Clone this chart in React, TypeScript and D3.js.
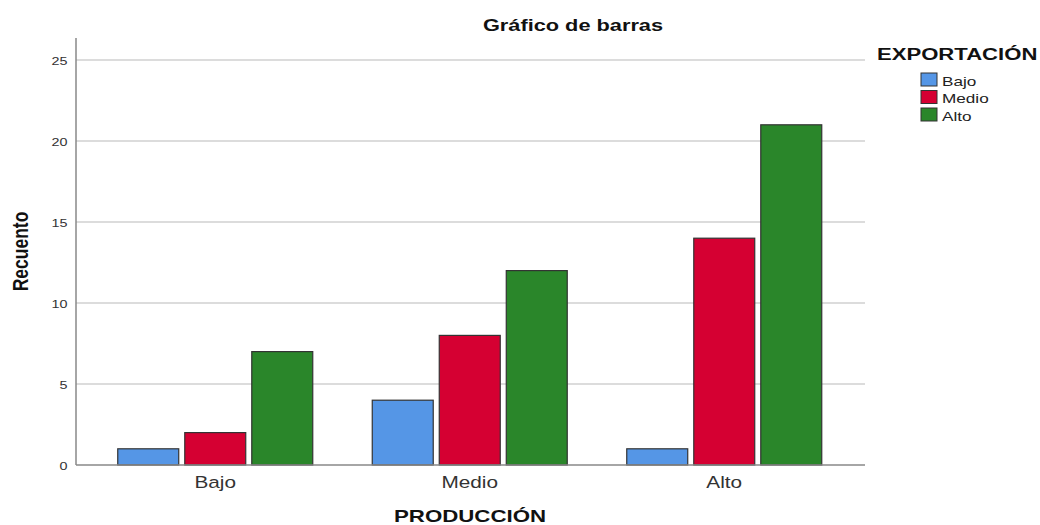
import React from "react";
import * as d3 from "d3";

const categories = ["Bajo", "Medio", "Alto"];
const seriesNames = ["Bajo", "Medio", "Alto"];
const bajoValues = [1, 4, 1];
const medioValues = [2, 8, 14];
const altoValues = [7, 12, 21];
const yTicks = [0, 5, 10, 15, 20, 25];
const colors = ["#5596E6", "#D50032", "#2A862A"];

const title = "Gráfico de barras";
const xTitle = "PRODUCCIÓN";
const yTitle = "Recuento";
const legendTitle = "EXPORTACIÓN";

type TP = { x: number; y: number; sx: number; size: number; bold?: boolean; anchor?: string; fill?: string; children: React.ReactNode };
function T({ x, y, sx, size, bold, anchor, fill, children }: TP) {
  return (
    <g transform={`translate(${x},${y}) scale(${sx},1)`}>
      <text x={0} y={0} fontSize={size} fontWeight={bold ? "bold" : "normal"} textAnchor={anchor || "start"} fill={fill || "#111"}>{children}</text>
    </g>
  );
}

export default function App() {
  const W = 1040, H = 525;
  const plotLeft = 76, plotRight = 865, plotTop = 38, plotBottom = 465;
  const series = [bajoValues, medioValues, altoValues];
  const y = d3.scaleLinear().domain([0, 25]).range([plotBottom, 60]);
  const x0 = d3.scaleBand<string>().domain(categories).range([88, 851.5]).padding(0);
  const groupW = 195;
  const x1 = d3.scaleBand<string>().domain(seriesNames).range([0, groupW]).paddingInner(0.09).paddingOuter(0);
  const font = "Arial, 'Liberation Sans', sans-serif";

  return (
    <svg width={W} height={H} style={{ position: "absolute", left: 0, top: 0, background: "#fff" }} fontFamily={font}>
      <T x={573} y={31} sx={1.28} size={17} bold anchor="middle">{title}</T>
      {yTicks.map((t) => (
        <g key={t}>
          {t > 0 && <line x1={plotLeft} x2={plotRight} y1={y(t)} y2={y(t)} stroke="#d0d0d0" strokeWidth={1.5} />}
          <T x={67.5} y={y(t) + 5} sx={1.25} size={11.5} anchor="end" fill="#333">{t}</T>
        </g>
      ))}
      {categories.map((c, ci) => {
        const gx = (x0(c) as number) + x0.bandwidth() / 2 - groupW / 2;
        return (
          <g key={c}>
            {seriesNames.map((s, si) => {
              const v = series[si][ci];
              return (
                <rect key={s} x={gx + (x1(s) as number)} y={y(v)} width={x1.bandwidth()} height={plotBottom - y(v)}
                  fill={colors[si]} stroke="#333" strokeWidth={1.2} />
              );
            })}
            <T x={(x0(c) as number) + x0.bandwidth() / 2} y={488} sx={1.26} size={16.5} anchor="middle" fill="#333">{c}</T>
          </g>
        );
      })}
      <line x1={plotLeft} x2={plotLeft} y1={plotTop} y2={plotBottom} stroke="#888" strokeWidth={1.5} />
      <line x1={plotLeft} x2={plotRight} y1={plotBottom} y2={plotBottom} stroke="#888" strokeWidth={1.5} />
      <T x={470} y={522} sx={1.31} size={17} bold anchor="middle">{xTitle}</T>
      <g transform="translate(28,251.5) rotate(-90) scale(1,1.3)">
        <text x={0} y={0} textAnchor="middle" fontSize={17.5} fontWeight="bold" fill="#111">{yTitle}</text>
      </g>
      <T x={877} y={60} sx={1.3} size={17} bold>{legendTitle}</T>
      {seriesNames.map((s, i) => (
        <g key={s}>
          <rect x={921} y={73 + i * 17.5} width={16} height={13} fill={colors[i]} stroke="#333" strokeWidth={1} />
          <T x={942} y={85.5 + i * 17.5} sx={1.27} size={13.5} fill="#222">{s}</T>
        </g>
      ))}
    </svg>
  );
}
